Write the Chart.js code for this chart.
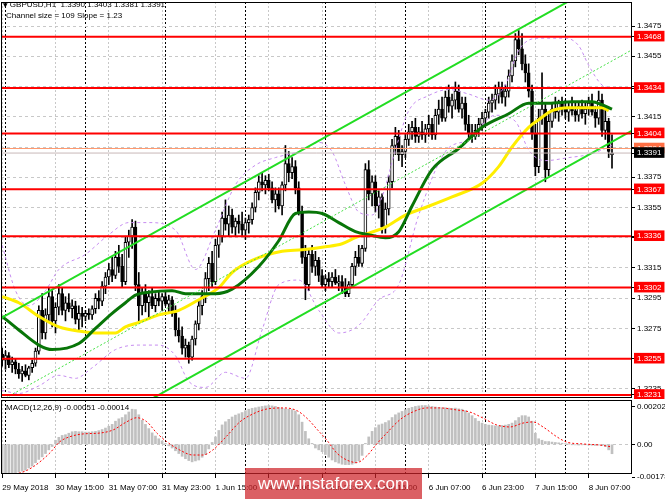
<!DOCTYPE html>
<html>
<head>
<meta charset="utf-8">
<script src="https://cdn.jsdelivr.net/npm/chart.js@4.4.0/dist/chart.umd.min.js"></script>
<style>
  html, body { margin: 0; padding: 0; background: #fff; }
  #wrap { position: relative; width: 665px; height: 499px; overflow: hidden; font-family: 'Liberation Sans', Arial, sans-serif; }
  #priceChart { position: absolute; left: 0; top: 0; }
  #macdChart { position: absolute; left: 0; top: 399px; }
  .note { position: absolute; font-size: 8px; line-height: 10px; color: #000; white-space: pre; }
  .tri { font-family: 'DejaVu Sans', sans-serif; font-size: 6px; }
  #watermark { position: absolute; left: 245px; top: 468px; width: 177px; height: 31px; background: rgba(205, 35, 40, 0.72); color: #fff; font-size: 17px; line-height: 31px; text-align: center; }
</style>
</head>
<body>
<div id="wrap">
  <canvas id="priceChart" width="665" height="399"></canvas>
  <canvas id="macdChart" width="665" height="100"></canvas>
  <div class="note" style="left:3px;top:0px"><span class="tri">▼</span> GBPUSD,H1  1.3390 1.3403 1.3381 1.3391</div>
  <div class="note" style="left:6px;top:11px">Channel size = 109 Slope = 1.23</div>
  <div class="note" style="left:6px;top:403px">MACD(12,26,9) -0.00051 -0.00014</div>
  <div id="watermark">www.instaforex.com</div>
</div>
<script>
// time axis (hourly bars, index 0 = 29 May 23:00)
const timeLabels = ['29 May 2018', '30 May 15:00', '31 May 07:00', '31 May 23:00', '1 Jun 15:00', '4 Jun 07:00',
    '4 Jun 23:00', '5 Jun 15:00', '6 Jun 07:00', '6 Jun 23:00', '7 Jun 15:00', '8 Jun 07:00'];
const labelIdx = [0, 16, 32, 48, 64, 80, 96, 112, 128, 144, 160, 176];
const daySepIdx = [1, 25, 49, 73, 97, 121, 145, 169];

// GBPUSD H1 candles
const opens = [
    1.3258,1.3254,1.3257,1.3251,1.3253,1.3248,1.3245,1.3247,1.3244,1.3249,
    1.3252,1.3260,1.3287,1.3272,1.3284,1.3296,1.3280,1.3289,1.3298,1.3287,
    1.3292,1.3288,1.3290,1.3281,1.3285,1.3283,1.3285,1.3284,1.3288,1.3295,
    1.3293,1.3303,1.3309,1.3314,1.3310,1.3322,1.3316,1.3306,1.3332,1.3336,
    1.3342,1.3304,1.3290,1.3298,1.3292,1.3296,1.3290,1.3295,1.3293,1.3296,
    1.3291,1.3294,1.3285,1.3274,1.3270,1.3262,1.3264,1.3256,1.3268,1.3278,
    1.3290,1.3296,1.3308,1.3318,1.3306,1.3330,1.3336,1.3348,1.3344,1.3350,
    1.3342,1.3346,1.3344,1.3340,1.3345,1.3347,1.3355,1.3365,1.3372,1.3370,
    1.3373,1.3368,1.3360,1.3364,1.3356,1.3370,1.3384,1.3378,1.3382,1.3368,
    1.3352,1.3322,1.3304,1.3324,1.3316,1.3320,1.3310,1.3304,1.3308,1.3306,
    1.3309,1.3305,1.3306,1.3302,1.3298,1.3304,1.3316,1.3322,1.3318,1.3328,
    1.3380,1.3364,1.3372,1.3356,1.3362,1.3342,1.3354,1.3372,1.3396,1.3402,
    1.3390,1.3392,1.3400,1.3405,1.3408,1.3402,1.3405,1.3403,1.3407,1.3410,
    1.3403,1.3416,1.3420,1.3414,1.3428,1.3422,1.3426,1.3432,1.3420,1.3424,
    1.3410,1.3404,1.3402,1.3406,1.3410,1.3414,1.3418,1.3424,1.3426,1.3430,
    1.3434,1.3428,1.3432,1.3442,1.3452,1.3466,1.3460,1.3450,1.3444,1.3432,
    1.3404,1.3382,1.3414,1.3420,1.3380,1.3412,1.3420,1.3418,1.3424,1.3420,
    1.3418,1.3421,1.3419,1.3416,1.3422,1.3417,1.3420,1.3424,1.3418,1.3414,
    1.3426,1.3406,1.3412,1.3390];
const highs = [
    1.3262,1.3260,1.3259,1.3256,1.3255,1.3252,1.3250,1.3251,1.3250,1.3254,
    1.3262,1.3290,1.3298,1.3288,1.3302,1.3300,1.3292,1.3304,1.3302,1.3296,
    1.3298,1.3294,1.3293,1.3290,1.3289,1.3287,1.3288,1.3290,1.3298,1.3300,
    1.3306,1.3312,1.3318,1.3322,1.3326,1.3330,1.3324,1.3336,1.3340,1.3347,
    1.3346,1.3312,1.3302,1.3304,1.3300,1.3302,1.3298,1.3300,1.3298,1.3300,
    1.3297,1.3296,1.3290,1.3282,1.3276,1.3268,1.3266,1.3270,1.3280,1.3294,
    1.3300,1.3312,1.3322,1.3326,1.3334,1.3340,1.3352,1.3360,1.3356,1.3354,
    1.3348,1.3350,1.3352,1.3348,1.3350,1.3358,1.3368,1.3376,1.3378,1.3376,
    1.3377,1.3372,1.3368,1.3368,1.3372,1.3396,1.3392,1.3388,1.3386,1.3372,
    1.3356,1.3330,1.3328,1.3330,1.3326,1.3322,1.3314,1.3310,1.3312,1.3312,
    1.3314,1.3310,1.3310,1.3308,1.3306,1.3318,1.3326,1.3330,1.3330,1.3384,
    1.3386,1.3376,1.3376,1.3366,1.3364,1.3358,1.3376,1.3400,1.3408,1.3406,
    1.3396,1.3404,1.3410,1.3412,1.3414,1.3408,1.3412,1.3410,1.3416,1.3414,
    1.3420,1.3426,1.3428,1.3432,1.3436,1.3430,1.3438,1.3436,1.3428,1.3428,
    1.3416,1.3410,1.3410,1.3414,1.3418,1.3420,1.3428,1.3430,1.3436,1.3438,
    1.3438,1.3436,1.3446,1.3456,1.3470,1.3472,1.3470,1.3456,1.3450,1.3436,
    1.3410,1.3420,1.3444,1.3424,1.3418,1.3424,1.3428,1.3426,1.3428,1.3426,
    1.3424,1.3428,1.3424,1.3424,1.3426,1.3424,1.3428,1.3430,1.3422,1.3432,
    1.3430,1.3420,1.3414,1.3403];
const lows = [
    1.3250,1.3248,1.3249,1.3246,1.3245,1.3242,1.3240,1.3243,1.3241,1.3246,
    1.3250,1.3258,1.3268,1.3268,1.3280,1.3276,1.3272,1.3284,1.3284,1.3280,
    1.3286,1.3282,1.3278,1.3273,1.3276,1.3280,1.3281,1.3281,1.3285,1.3288,
    1.3290,1.3298,1.3304,1.3306,1.3308,1.3312,1.3302,1.3304,1.3322,1.3328,
    1.3300,1.3280,1.3284,1.3286,1.3282,1.3288,1.3286,1.3290,1.3287,1.3290,
    1.3286,1.3283,1.3270,1.3266,1.3258,1.3256,1.3252,1.3254,1.3264,1.3274,
    1.3284,1.3292,1.3300,1.3302,1.3304,1.3322,1.3332,1.3340,1.3336,1.3338,
    1.3336,1.3338,1.3336,1.3334,1.3338,1.3344,1.3352,1.3360,1.3366,1.3364,
    1.3366,1.3358,1.3352,1.3354,1.3350,1.3366,1.3372,1.3374,1.3364,1.3350,
    1.3318,1.3294,1.3300,1.3312,1.3310,1.3306,1.3302,1.3300,1.3302,1.3302,
    1.3304,1.3300,1.3298,1.3296,1.3296,1.3302,1.3310,1.3316,1.3316,1.3326,
    1.3360,1.3356,1.3352,1.3348,1.3338,1.3338,1.3350,1.3368,1.3390,1.3386,
    1.3382,1.3388,1.3396,1.3400,1.3398,1.3398,1.3400,1.3398,1.3402,1.3400,
    1.3400,1.3410,1.3412,1.3412,1.3418,1.3414,1.3420,1.3418,1.3414,1.3406,
    1.3400,1.3398,1.3400,1.3402,1.3406,1.3410,1.3414,1.3418,1.3420,1.3424,
    1.3424,1.3422,1.3428,1.3438,1.3448,1.3456,1.3446,1.3438,1.3428,1.3400,
    1.3376,1.3378,1.3410,1.3372,1.3376,1.3408,1.3414,1.3412,1.3416,1.3414,
    1.3412,1.3416,1.3412,1.3412,1.3414,1.3410,1.3416,1.3416,1.3408,1.3410,
    1.3402,1.3400,1.3388,1.3381];
const closes = [
    1.3254,1.3257,1.3251,1.3253,1.3248,1.3245,1.3247,1.3244,1.3249,1.3252,
    1.3260,1.3287,1.3272,1.3284,1.3296,1.3280,1.3289,1.3298,1.3287,1.3292,
    1.3288,1.3290,1.3281,1.3285,1.3283,1.3285,1.3284,1.3288,1.3295,1.3293,
    1.3303,1.3309,1.3314,1.3310,1.3322,1.3316,1.3306,1.3332,1.3336,1.3342,
    1.3304,1.3290,1.3298,1.3292,1.3296,1.3290,1.3295,1.3293,1.3296,1.3291,
    1.3294,1.3285,1.3274,1.3270,1.3262,1.3264,1.3256,1.3268,1.3278,1.3290,
    1.3296,1.3308,1.3318,1.3306,1.3330,1.3336,1.3348,1.3344,1.3350,1.3342,
    1.3346,1.3344,1.3340,1.3345,1.3347,1.3355,1.3365,1.3372,1.3370,1.3373,
    1.3368,1.3360,1.3364,1.3356,1.3370,1.3384,1.3378,1.3382,1.3368,1.3352,
    1.3322,1.3304,1.3324,1.3316,1.3320,1.3310,1.3304,1.3308,1.3306,1.3309,
    1.3305,1.3306,1.3302,1.3298,1.3304,1.3316,1.3322,1.3318,1.3328,1.3380,
    1.3364,1.3372,1.3356,1.3362,1.3342,1.3354,1.3372,1.3396,1.3402,1.3390,
    1.3392,1.3400,1.3405,1.3408,1.3402,1.3405,1.3403,1.3407,1.3410,1.3403,
    1.3416,1.3420,1.3414,1.3428,1.3422,1.3426,1.3432,1.3420,1.3424,1.3410,
    1.3404,1.3402,1.3406,1.3410,1.3414,1.3418,1.3424,1.3426,1.3430,1.3434,
    1.3428,1.3432,1.3442,1.3452,1.3466,1.3460,1.3450,1.3444,1.3432,1.3404,
    1.3382,1.3414,1.3420,1.3380,1.3412,1.3420,1.3418,1.3424,1.3420,1.3418,
    1.3421,1.3419,1.3416,1.3422,1.3417,1.3420,1.3424,1.3418,1.3414,1.3426,
    1.3406,1.3412,1.3392,1.3391];

// moving averages and envelope, [bar index, price]
const maGreen = [[0,1.3283],[5,1.3274],[11,1.3264],[15,1.3261],[23,1.3265],[28,1.3275],[33,1.3285],[37,1.3292],
    [40,1.3297],[44,1.3299],[51,1.3300],[55,1.3298],[59,1.3298],[64,1.3298],[69,1.3301],[77,1.3316],[83,1.3333],
    [88,1.3351],[92,1.3352],[96,1.3351],[101,1.3345],[106,1.3339],[110,1.3337],[115,1.3335],[119,1.3339],
    [123,1.3356],[129,1.3380],[137,1.3394],[144,1.3408],[152,1.3417],[158,1.3424],[164,1.3424],[171,1.3425],
    [177,1.3425],[180,1.3423],[183,1.3420]];
const maYellow = [[0,1.3296],[5,1.3292],[11,1.3283],[17,1.3276],[24,1.3273],[29,1.3272],[34,1.3272],[37,1.3276],
    [41,1.3279],[47,1.3284],[53,1.3287],[59,1.3294],[65,1.3302],[69,1.3312],[75,1.3320],[84,1.3326],[90,1.3327],
    [97,1.3329],[102,1.3331],[106,1.3335],[110,1.3338],[115,1.3342],[121,1.3350],[127,1.3355],[135,1.3362],
    [144,1.3371],[149,1.3382],[153,1.3395],[158,1.3408],[161,1.3413],[165,1.3419],[170,1.3421],[174,1.3421],
    [180,1.3421],[182,1.3419]];
const bandUpper = [[0,1.3330],[4,1.3300],[8,1.3290],[13,1.3300],[17,1.3314],[25,1.3324],[32,1.3337],[38,1.3345],
    [44,1.3345],[52,1.3340],[58,1.3314],[64,1.3340],[70,1.3370],[76,1.3383],[82,1.3388],[89,1.3392],[95,1.3398],
    [99,1.3392],[103,1.3370],[107,1.3352],[111,1.3350],[114,1.3362],[118,1.3393],[122,1.3419],[128,1.3429],
    [134,1.3433],[140,1.3430],[146,1.3426],[151,1.3436],[155,1.3459],[161,1.3467],[169,1.3467],[173,1.3462],
    [176,1.3449],[180,1.3436],[183,1.3434]];
const bandLower = [[0,1.3234],[5,1.3232],[11,1.3237],[17,1.3244],[22,1.3242],[27,1.3249],[34,1.3261],[41,1.3264],
    [47,1.3264],[52,1.3257],[56,1.3240],[61,1.3236],[67,1.3246],[73,1.3242],[78,1.3274],[83,1.3304],[89,1.3307],
    [95,1.3287],[101,1.3272],[107,1.3277],[113,1.3294],[119,1.3304],[125,1.3350],[133,1.3392],[140,1.3400],
    [148,1.3416],[154,1.3412],[158,1.3393],[163,1.3386],[170,1.3388],[176,1.3390],[181,1.3394],[183,1.3396]];

// regression channel: 109 pips wide, slope 1.23 pips per bar
const channelUpper = [[-1, 1.3281], [190, 1.3516]];
const channelMiddle = [[-1, 1.32265], [190, 1.34605]];
const channelLower = [[-1, 1.3172], [190, 1.3407]];

// horizontal levels and price axis
const levels = [1.3468, 1.3434, 1.3404, 1.3367, 1.3336, 1.3302, 1.3255, 1.3231];
const gridValues = [1.3475, 1.3455, 1.3435, 1.3415, 1.3395, 1.3375, 1.3355, 1.3335, 1.3315, 1.3295, 1.3275, 1.3255, 1.3235];
const hiddenGridLabels = [1.3435, 1.3395, 1.3335];
const lastPrice = 1.3391;
const askPrice = 1.3394;

// MACD(12,26,9)
const macdHist = [
    -0.00155,-0.00158,-0.00160,-0.00158,-0.00155,-0.00150,-0.00145,-0.00140,-0.00128,-0.00118,
    -0.00100,-0.00082,-0.00068,-0.00050,-0.00030,-0.00012,0.00022,0.00038,0.00048,0.00052,
    0.00060,0.00068,0.00070,0.00068,0.00068,0.00066,0.00066,0.00068,0.00070,0.00074,
    0.00080,0.00088,0.00098,0.00108,0.00125,0.00138,0.00145,0.00160,0.00175,0.00190,
    0.00188,0.00160,0.00130,0.00108,0.00085,0.00062,0.00045,0.00030,0.00018,0.00004,
    -0.00008,-0.00020,-0.00035,-0.00050,-0.00065,-0.00078,-0.00088,-0.00095,-0.00090,-0.00085,
    -0.00070,-0.00055,-0.00025,0.00010,0.00040,0.00075,0.00105,0.00122,0.00135,0.00148,
    0.00158,0.00165,0.00172,0.00182,0.00190,0.00195,0.00198,0.00202,0.00205,0.00208,
    0.00210,0.00208,0.00205,0.00200,0.00195,0.00192,0.00190,0.00188,0.00180,0.00160,
    0.00120,0.00070,0.00030,0.00005,-0.00020,-0.00030,-0.00040,-0.00055,-0.00070,-0.00085,
    -0.00095,-0.00102,-0.00108,-0.00110,-0.00110,-0.00108,-0.00102,-0.00090,-0.00060,0.00005,
    0.00040,0.00070,0.00090,0.00105,0.00110,0.00118,0.00128,0.00145,0.00160,0.00170,
    0.00178,0.00188,0.00195,0.00200,0.00205,0.00208,0.00210,0.00210,0.00208,0.00205,
    0.00202,0.00200,0.00198,0.00198,0.00196,0.00195,0.00196,0.00192,0.00190,0.00182,
    0.00170,0.00155,0.00140,0.00125,0.00115,0.00108,0.00104,0.00102,0.00100,0.00100,
    0.00102,0.00104,0.00108,0.00115,0.00128,0.00145,0.00155,0.00155,0.00148,0.00125,
    0.00060,0.00030,0.00022,0.00015,0.00015,0.00012,0.00010,0.00008,0.00006,0.00003,
    0.00001,-0.00002,-0.00003,-0.00004,-0.00003,-0.00002,-0.00004,-0.00005,-0.00006,-0.00004,
    -0.00006,-0.00012,-0.00030,-0.00051];
const macdSignal = [[1.4,-0.00161],[5.3,-0.00155],[9.2,-0.00123],[14.3,-0.00047],[17.3,0.00014],[20.3,0.00041],
    [24.2,0.00056],[29.3,0.00061],[33.2,0.00077],[37.4,0.00122],[40.4,0.00144],[43.4,0.00122],[46.4,0.00061],
    [49.4,0.00014],[53.3,-0.00031],[57.2,-0.00058],[60.2,-0.00058],[63.2,-0.00031],[67.4,0.00045],[71.3,0.00121],
    [75.2,0.00164],[79.4,0.00191],[84.8,0.00197],[88.7,0.00180],[91.7,0.00137],[94.7,0.00077],[97.4,0.00023],
    [100.4,-0.00047],[103.4,-0.00085],[106.4,-0.00099],[109.4,-0.00063],[112.4,0.00002],[115.4,0.00061],
    [119.3,0.00132],[123.2,0.00175],[127.4,0.00197],[131.3,0.00197],[136.4,0.00186],[140.3,0.00175],
    [144.3,0.00142],[148.4,0.00105],[152.4,0.00094],[156.3,0.00115],[159.3,0.00121],[162.3,0.00094],
    [166.5,0.00040],[169.4,0.00012],[174.3,0.00002],[179.3,-0.00004],[183,-0.00014]];
const macdTicks = [0.00202, 0, -0.00178];

const xMin = -0.35, xMax = 189;
const axisFont = { family: "'Liberation Sans', Arial, sans-serif", size: 8 };
const pts = arr => arr.map(([x, y]) => ({ x, y }));

function boxColor(v) {
    if (levels.includes(v)) return '#ff0000';
    if (v === lastPrice) return '#000000';
    if (v === askPrice) return '#ff7045';
    return null;
}

function setTimeTicks(axis) {
    const vals = [...new Set([...labelIdx, ...daySepIdx])].sort((a, b) => a - b);
    axis.ticks = vals.map(v => ({ value: v }));
}

function timeGridColor(ctx) {
    if (!ctx.tick) return '#c8c8c8';
    return daySepIdx.includes(ctx.tick.value) ? '#000000' : '#c8c8c8';
}

// black frame round each panel, like the terminal draws it
const framePlugin = {
    id: 'frame',
    afterDraw(chart) {
        const { ctx, chartArea: a } = chart;
        ctx.save();
        ctx.strokeStyle = '#000';
        ctx.lineWidth = 1;
        ctx.strokeRect(a.left + 0.5, a.top + 0.5, a.right - a.left - 1, a.bottom - a.top - 1);
        ctx.restore();
    }
};

const levelSets = levels.map(v => ({
    type: 'line',
    data: [{ x: xMin - 1, y: v }, { x: xMax + 1, y: v }],
    borderColor: '#ff0000',
    borderWidth: 2,
    pointRadius: 0,
    order: 0
}));

const lineSet = (points, color, width, dash, order) => ({
    type: 'line',
    data: pts(points),
    borderColor: color,
    borderWidth: width,
    borderDash: dash,
    pointRadius: 0,
    cubicInterpolationMode: 'monotone',
    order: order
});

new Chart(document.getElementById('priceChart'), {
    type: 'bar',
    data: {
        datasets: [
            ...levelSets,
            lineSet([[xMin - 1, askPrice], [xMax + 1, askPrice]], '#ff9a70', 1, [], 1),
            lineSet([[xMin - 1, lastPrice], [xMax + 1, lastPrice]], '#c8b8b8', 1, [], 1),
            lineSet(channelUpper, '#22dd22', 2, [], 2),
            lineSet(channelLower, '#22dd22', 2, [], 2),
            lineSet(channelMiddle, '#44e044', 1, [2, 2], 2),
            lineSet(maGreen, '#087508', 3, [], 3),
            lineSet(maYellow, '#ffee00', 3, [], 4),
            lineSet(bandUpper, '#c68cf0', 1, [3, 3], 5),
            lineSet(bandLower, '#c68cf0', 1, [3, 3], 5),
            {
                type: 'bar',
                data: opens.map((o, i) => ({ x: i, y: [o, closes[i]] })),
                backgroundColor: ctx => closes[ctx.dataIndex] >= opens[ctx.dataIndex] ? '#ffffff' : '#000000',
                borderColor: '#000000',
                borderWidth: 1,
                borderSkipped: false,
                barThickness: 3,
                minBarLength: 1,
                grouped: false,
                order: 6
            },
            {
                type: 'bar',
                data: lows.map((l, i) => ({ x: i, y: [l, highs[i]] })),
                backgroundColor: '#000000',
                barThickness: 1,
                grouped: false,
                order: 7
            }
        ]
    },
    options: {
        responsive: false,
        animation: false,
        events: [],
        layout: { padding: { left: 1, top: 2, right: 0, bottom: 1 } },
        plugins: { legend: { display: false }, tooltip: { enabled: false } },
        scales: {
            x: {
                type: 'linear',
                min: xMin,
                max: xMax,
                offset: false,
                bounds: 'data',
                afterBuildTicks: setTimeTicks,
                afterFit: a => { a.height = 0; a.paddingLeft = 0; a.paddingRight = 0; },
                ticks: { display: false },
                grid: { offset: false, drawTicks: false, color: timeGridColor },
                border: { display: false, dash: [2, 2] }
            },
            y: {
                position: 'right',
                min: 1.32290,
                max: 1.34909,
                bounds: 'data',
                afterBuildTicks: axis => {
                    const vals = [...new Set([...gridValues, ...levels, askPrice, lastPrice])].sort((a, b) => b - a);
                    axis.ticks = vals.map(v => ({ value: v }));
                },
                afterFit: a => { a.width = 33; a.paddingTop = 0; a.paddingBottom = 0; },
                ticks: {
                    autoSkip: false,
                    padding: 2,
                    font: axisFont,
                    color: ctx => ctx.tick && boxColor(ctx.tick.value) ? '#ffffff' : '#000000',
                    showLabelBackdrop: ctx => !!(ctx.tick && boxColor(ctx.tick.value)),
                    backdropColor: ctx => (ctx.tick && boxColor(ctx.tick.value)) || 'rgba(0,0,0,0)',
                    backdropPadding: { left: 3, right: 3, top: 1, bottom: 0 },
                    callback: v => hiddenGridLabels.includes(v) ? '' : v.toFixed(4)
                },
                grid: {
                    color: ctx => ctx.tick && gridValues.includes(ctx.tick.value) ? '#c8c8c8' : 'rgba(0,0,0,0)',
                    tickColor: '#000000',
                    tickLength: 3
                },
                border: { display: false, dash: [3, 3] }
            }
        }
    },
    plugins: [framePlugin]
});

new Chart(document.getElementById('macdChart'), {
    type: 'bar',
    data: {
        datasets: [
            lineSet(macdSignal, '#ff0000', 1, [2, 2], 1),
            {
                type: 'bar',
                data: macdHist.map((v, i) => ({ x: i, y: v })),
                backgroundColor: '#c0c0c0',
                barThickness: 2,
                grouped: false,
                order: 2
            }
        ]
    },
    options: {
        responsive: false,
        animation: false,
        events: [],
        layout: { padding: { left: 1, top: 1, right: 0, bottom: 0 } },
        plugins: { legend: { display: false }, tooltip: { enabled: false } },
        scales: {
            x: {
                type: 'linear',
                min: xMin,
                max: xMax,
                offset: false,
                bounds: 'data',
                afterBuildTicks: setTimeTicks,
                afterFit: a => { a.height = 25; a.paddingLeft = 0; a.paddingRight = 0; },
                ticks: {
                    autoSkip: false,
                    maxRotation: 0,
                    align: 'start',
                    padding: 5,
                    color: '#000000',
                    font: axisFont,
                    callback: v => labelIdx.includes(v) ? timeLabels[labelIdx.indexOf(v)] : ''
                },
                grid: {
                    offset: false,
                    color: timeGridColor,
                    tickLength: 4,
                    tickColor: ctx => ctx.tick && labelIdx.includes(ctx.tick.value) ? '#000000' : 'rgba(0,0,0,0)'
                },
                border: { display: false, dash: [2, 2] }
            },
            y: {
                position: 'right',
                min: -0.001608,
                max: 0.002399,
                bounds: 'data',
                afterBuildTicks: axis => { axis.ticks = macdTicks.map(v => ({ value: v })); },
                afterFit: a => { a.width = 33; a.paddingTop = 0; a.paddingBottom = 0; },
                ticks: {
                    autoSkip: false,
                    padding: 2,
                    color: '#000000',
                    font: axisFont,
                    callback: v => v === 0 ? '0.00' : v.toFixed(5)
                },
                grid: {
                    color: ctx => ctx.tick && ctx.tick.value === 0 ? '#c8c8c8' : 'rgba(0,0,0,0)',
                    tickColor: '#000000',
                    tickLength: 3
                },
                border: { display: false, dash: [3, 3] }
            }
        }
    },
    plugins: [framePlugin]
});
</script>
</body>
</html>
